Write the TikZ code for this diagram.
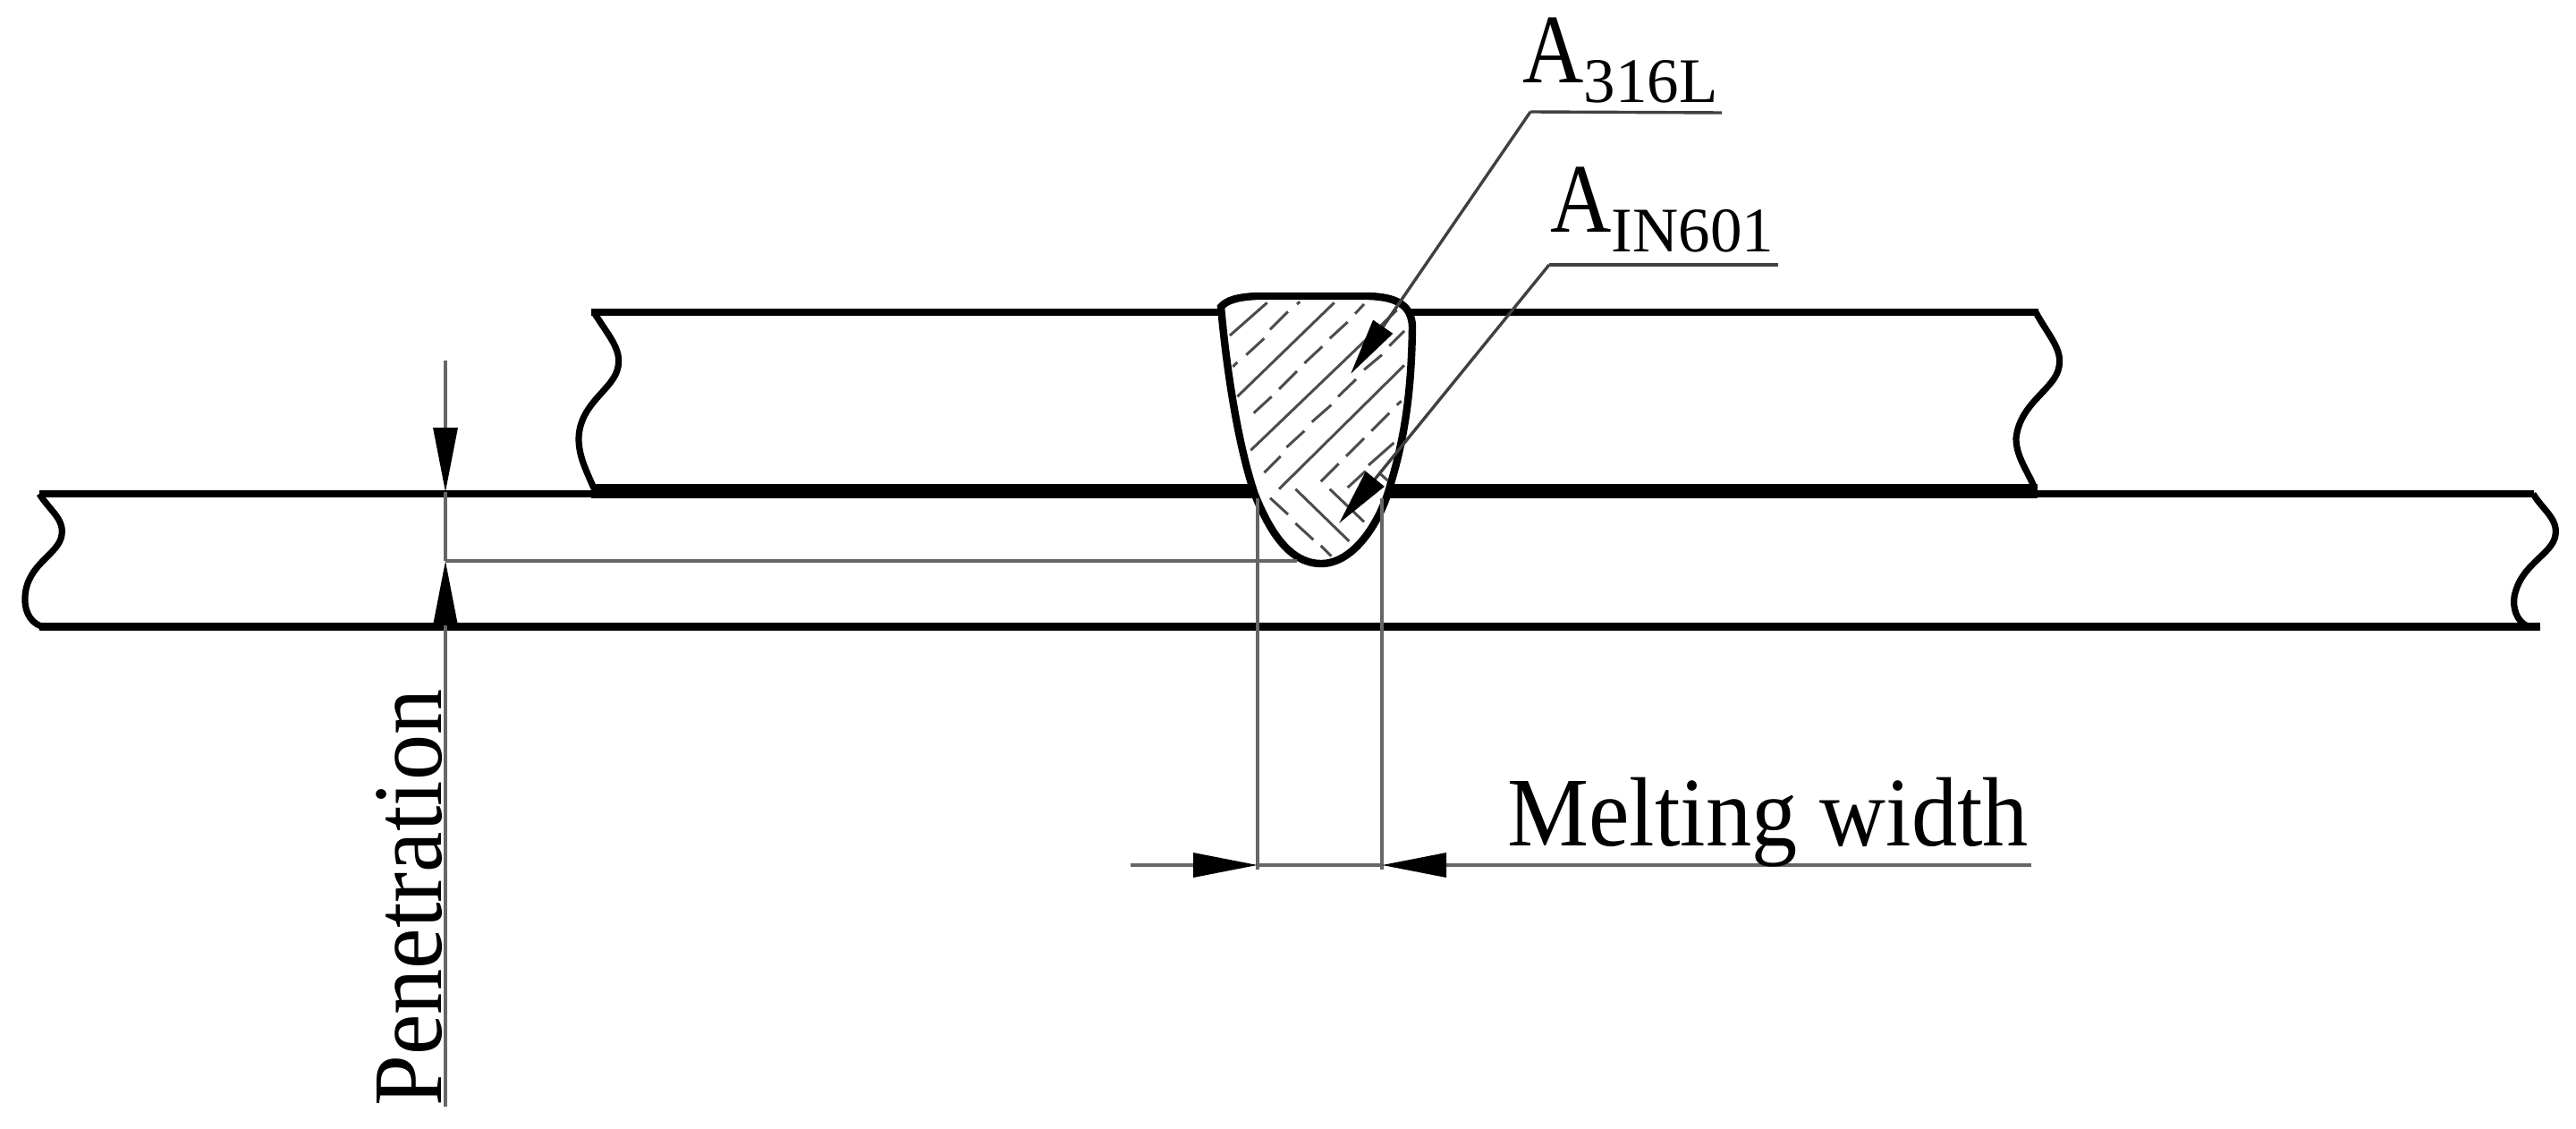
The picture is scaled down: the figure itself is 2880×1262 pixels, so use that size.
\documentclass[tikz,border=0pt]{standalone}
\usepackage{fontspec}
\setmainfont{Liberation Serif}
\usetikzlibrary{arrows.meta,positioning}

\newcommand{\bigtxt}[1]{\scalebox{0.93}[1]{\fontsize{55}{55}\selectfont #1}}
\newcommand{\capA}{\scalebox{0.86}[1]{\fontsize{55}{55}\selectfont A}}
\newcommand{\subtxt}[1]{\raisebox{-11pt}{\fontsize{35.5}{36}\selectfont #1}}

\tikzset{
  plate/.style = {line width=4.2pt, black},
  waveline/.style = {line width=3.6pt, black},
  thinline/.style = {line width=1.7pt, black!60},
  hatchline/.style = {line width=1.5pt, black!70},
  labeltxt/.style = {inner sep=0pt},
  dimtip/.style = {-{Triangle[length=36pt,width=13.5pt,black]}, thinline},
  leadtip/.style = {-{Triangle[length=32pt,width=13pt,black]}, thinline, black!75},
}

\begin{document}
\begin{tikzpicture}[x=0.5pt, y=-0.5pt]
  \useasboundingbox (0,0) rectangle (2880,1262);

  % plates
  \draw[plate] (44,552) -- (2833,552);
  \draw[plate] (44,700.5) -- (2840,700.5);
  \draw[plate] (661,349) -- (2279,349);
  \draw[plate, line width=8pt] (661,548.5) -- (2278,548.5);
  \draw[waveline] (44,552) .. controls (55,570) and (72,580) .. (69,598) .. controls (66,620) and (30,630) .. (28,667) .. controls (27,680) and (32,695) .. (46,700);
  \draw[waveline] (2832,552) .. controls (2843,570) and (2860,580) .. (2857,598) .. controls (2854,620) and (2818,630) .. (2811,667) .. controls (2809,680) and (2814,695) .. (2826,700);
  \draw[waveline] (664,349) .. controls (680,375) and (695,390) .. (691,410) .. controls (687,435) and (648,450) .. (647,490) .. controls (647,510) and (655,525) .. (664,546);
  \draw[waveline] (2276,349) .. controls (2290,375) and (2306,390) .. (2302,410) .. controls (2298,435) and (2258,450) .. (2254,490) .. controls (2254,510) and (2266,525) .. (2275,546);

  % weld bead
  \draw[plate, fill=white] (1365,343) .. controls (1372,335) and (1385,332) .. (1405,331) -- (1530,331)
    .. controls (1560,332) and (1578,340) .. (1579,365) .. controls (1578,440) and (1570,490) .. (1555,540)
    .. controls (1545,580) and (1515,630) .. (1477,630) .. controls (1440,630) and (1418,590) .. (1403,553)
    .. controls (1385,500) and (1372,420) .. (1365,343) -- cycle;

  % hatching, read off in a finer grid
  \begin{scope}[shift={(1250,280)}, x=0.16667pt, y=-0.16667pt]
    \foreach \xa/\ya/\xb/\yb in {375/285/500/175, 400/490/725/175, 445/670/935/200, 540/800/960/385,
      510/265/570/205, 430/350/490/295, 385/390/400/375, 600/180/610/172,
      455/545/515/490, 540/465/600/405, 625/378/685/322, 710/295/770/240, 795/212/825/180,
      490/745/545/690, 565/660/625/605, 650/575/715/518, 738/490/798/432, 825/400/885/350, 910/320/960/270,
      680/775/740/715, 765/690/825/630, 850/605/910/545, 935/518/950/505,
      770/795/830/740, 840/720/925/645,
      595/800/775/975, 710/800/825/910, 510/830/570/885, 595/915/655/970, 680/990/715/1025, 875/745/905/772}
      \draw[hatchline] (\xa,\ya) -- (\xb,\yb);
  \end{scope}

  % labels and their leaders
  \coordinate (leadA) at (1711,125);
  \coordinate (leadAend) at (1925,126);
  \coordinate (tipA) at (1510,418);
  \coordinate (leadB) at (1732,296);
  \coordinate (leadBend) at (1988,296);
  \coordinate (tipB) at (1497,585);

  \node[labeltxt, anchor=base west] (labelA) at (1702,93) {\capA\subtxt{316L}};
  \node[labeltxt, anchor=base west] (labelB) at (1733,260) {\capA\subtxt{IN601}};

  \draw[thinline, black!75] (leadAend) -- (leadA);
  \draw[leadtip] (leadA) -- (tipA);
  \draw[thinline, black!75] (leadBend) -- (leadB);
  \draw[leadtip] (leadB) -- (tipB);

  % penetration
  \coordinate (pentop) at (498,403);
  \coordinate (pena) at (498,550);
  \coordinate (penb) at (498,627);
  \coordinate (penend) at (498,1237);
  \coordinate (penweld) at (1450,627);

  \draw[thinline] (pena) -- (penb);
  \draw[dimtip] (pentop) -- (pena);
  \draw[dimtip] (penend) -- (penb);
  \draw[thinline] (penb) -- (penweld);
  \node[labeltxt, rotate=90, anchor=base west] (penlabel) at (493,1237) {\bigtxt{Penetration}};

  % melting width
  \coordinate (wlefttop) at (1406,557);
  \coordinate (wrighttop) at (1545,557);
  \coordinate (wleft) at (1406,967);
  \coordinate (wright) at (1545,967);
  \coordinate (wstart) at (1264,967);
  \coordinate (wend) at (2271,967);

  \draw[thinline] (wlefttop) -- ([yshift=-2.5pt]wleft);
  \draw[thinline] (wrighttop) -- ([yshift=-2.5pt]wright);
  \draw[thinline] (wleft) -- (wright);
  \draw[dimtip] (wstart) -- (wleft);
  \draw[dimtip] (wend) -- (wright);
  \node[labeltxt, anchor=base west] (widthlabel) at (1685,945) {\bigtxt{Melting width}};
\end{tikzpicture}
\end{document}
